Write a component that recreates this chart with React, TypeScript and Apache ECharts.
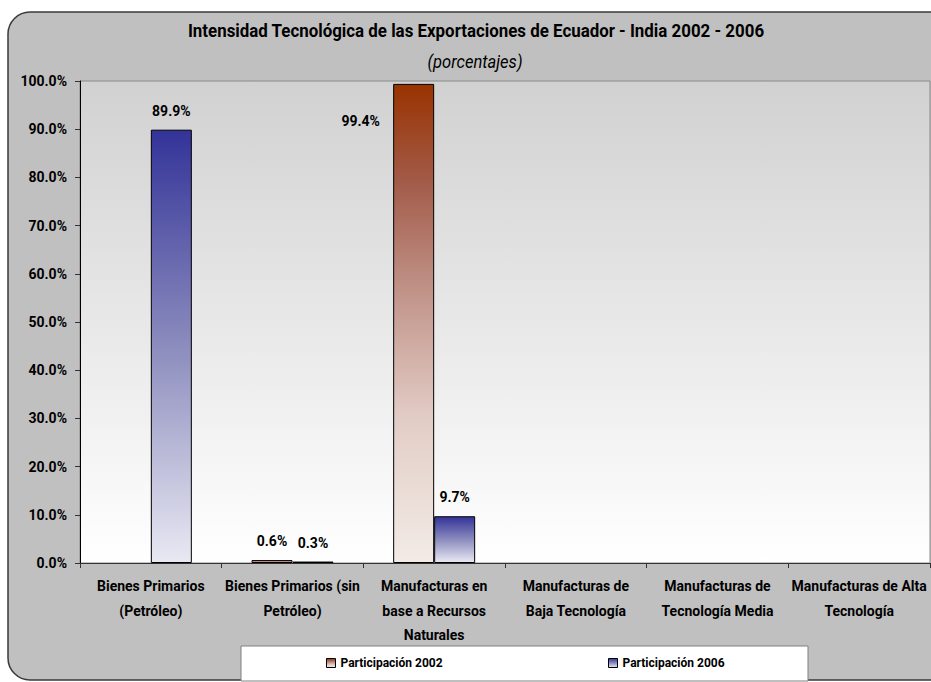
import React, { useEffect, useRef } from 'react';
import * as echarts from 'echarts';

const titleText = 'Intensidad Tecnológica de las Exportaciones de Ecuador - India 2002 - 2006';
const subtitleText = '(porcentajes)';
const categories = [
  'Bienes Primarios\n(Petróleo)',
  'Bienes Primarios (sin\nPetróleo)',
  'Manufacturas en\nbase a Recursos\nNaturales',
  'Manufacturas de\nBaja Tecnología',
  'Manufacturas de\nTecnología Media',
  'Manufacturas de Alta\nTecnología',
];
const seriesNames = ['Participación 2002', 'Participación 2006'];
const values2002: (number | null)[] = [null, 0.6, 99.4, null, null, null];
const values2006: (number | null)[] = [89.9, 0.3, 9.7, null, null, null];
const yMin = 0;
const yMax = 100;
const yStep = 10;

const FONT = 'Roboto, "Noto Sans", sans-serif';

function measure(text: string, font: string): number {
  const c = document.createElement('canvas');
  const ctx = c.getContext('2d');
  if (!ctx) return 0;
  ctx.font = font;
  return ctx.measureText(text).width;
}

export default function App() {
  const ref = useRef<HTMLDivElement>(null);
  useEffect(() => {
    if (!ref.current) return;
    const chart = echarts.init(ref.current, undefined, { renderer: 'svg' });
    const grad = (stops: [number, string][]) =>
      new echarts.graphic.LinearGradient(
        0,
        0,
        0,
        1,
        stops.map(([offset, color]) => ({ offset, color }))
      );
    const titleW = measure(titleText, 'bold 19px Roboto') || 700;
    const subW = measure(subtitleText, 'italic 18px Roboto') || 110;
    const titleScale = 577 / titleW;
    const subScale = 95 / subW;
    const labelCommon = {
      show: true,
      position: 'top',
      distance: 12,
      color: '#000',
      fontFamily: FONT,
      fontWeight: 'bold',
      fontSize: 14,
      formatter: (p: any) => (p.value == null ? '' : Number(p.value).toFixed(1) + '%'),
    };
    const data2002 = values2002.map((v, i) =>
      i === 2 ? { value: v, label: { offset: [-53, 56] } } : { value: v }
    );
    const data2006 = values2006.map((v) => ({ value: v }));
    const legendCommon = {
      top: 657,
      padding: 0,
      icon: 'rect',
      itemWidth: 9,
      itemHeight: 9,
      textStyle: { fontFamily: FONT, fontWeight: 'bold', fontSize: 12, color: '#000' },
      itemStyle: { borderColor: '#000', borderWidth: 1 },
    };
    chart.setOption({
      animation: false,
      textStyle: { fontFamily: FONT },
      graphic: [
        {
          type: 'rect',
          z: -10,
          shape: { x: 8, y: 12, width: 960, height: 668, r: 22 },
          style: { fill: '#c0c0c0', stroke: '#3a3a3a', lineWidth: 1.5 },
        },
        {
          type: 'rect',
          z: 1,
          shape: { x: 241, y: 646, width: 567, height: 35 },
          style: { fill: '#ffffff', stroke: '#808080', lineWidth: 1 },
        },
        {
          type: 'text',
          z: 5,
          x: 476,
          y: 30,
          scaleX: titleScale,
          style: {
            text: titleText,
            fontFamily: FONT,
            fontWeight: 'bold',
            fontSize: 19,
            fill: '#000',
            align: 'center',
            verticalAlign: 'middle',
          },
        },
        {
          type: 'text',
          z: 5,
          x: 475,
          y: 62,
          scaleX: subScale,
          style: {
            text: subtitleText,
            fontFamily: FONT,
            fontStyle: 'italic',
            fontSize: 18,
            fill: '#000',
            align: 'center',
            verticalAlign: 'middle',
          },
        },
      ],
      legend: [
        { ...legendCommon, data: [seriesNames[0]], left: 326 },
        { ...legendCommon, data: [seriesNames[1]], left: 608 },
      ],
      grid: {
        left: 80,
        right: 1,
        top: 81,
        bottom: 119,
        show: true,
        backgroundColor: grad([
          [0, '#d1d1d1'],
          [1, '#ffffff'],
        ]),
        borderColor: '#8a8a8a',
        borderWidth: 1,
      },
      xAxis: {
        type: 'category',
        data: categories,
        axisLine: { show: true, lineStyle: { color: '#333', width: 1 } },
        axisTick: { show: true, alignWithLabel: false, length: 5, lineStyle: { color: '#333' } },
        axisLabel: {
          interval: 0,
          margin: 11,
          color: '#000',
          fontFamily: FONT,
          fontWeight: 'bold',
          fontSize: 14,
          lineHeight: 24.5,
          align: 'center',
        },
      },
      yAxis: {
        type: 'value',
        min: yMin,
        max: yMax,
        interval: yStep,
        splitLine: { show: false },
        axisLine: { show: true, lineStyle: { color: '#000', width: 1 } },
        axisTick: { show: true, length: 5, lineStyle: { color: '#333' } },
        axisLabel: {
          margin: 13,
          color: '#000',
          fontFamily: FONT,
          fontWeight: 'bold',
          fontSize: 14,
          formatter: (v: number) => v.toFixed(1) + '%',
        },
      },
      series: [
        {
          name: seriesNames[0],
          type: 'bar',
          barWidth: 41,
          barGap: '0%',
          data: data2002,
          itemStyle: {
            color: grad([
              [0, '#993300'],
              [0.2, '#a25a48'],
              [0.45, '#c3978d'],
              [0.7, '#e2cdc6'],
              [1, '#f3ebe6'],
            ]),
            borderColor: '#000',
            borderWidth: 1,
          },
          label: labelCommon,
        },
        {
          name: seriesNames[1],
          type: 'bar',
          barWidth: 41,
          barGap: '0%',
          data: data2006,
          itemStyle: {
            color: grad([
              [0, '#333399'],
              [0.5, '#8c8cbe'],
              [1, '#e9e9f3'],
            ]),
            borderColor: '#000',
            borderWidth: 1,
          },
          label: labelCommon,
        },
      ],
    });
    return () => chart.dispose();
  }, []);
  return (
    <div
      ref={ref}
      style={{ position: 'absolute', left: 0, top: 0, width: 931, height: 682, background: '#ffffff' }}
    />
  );
}
